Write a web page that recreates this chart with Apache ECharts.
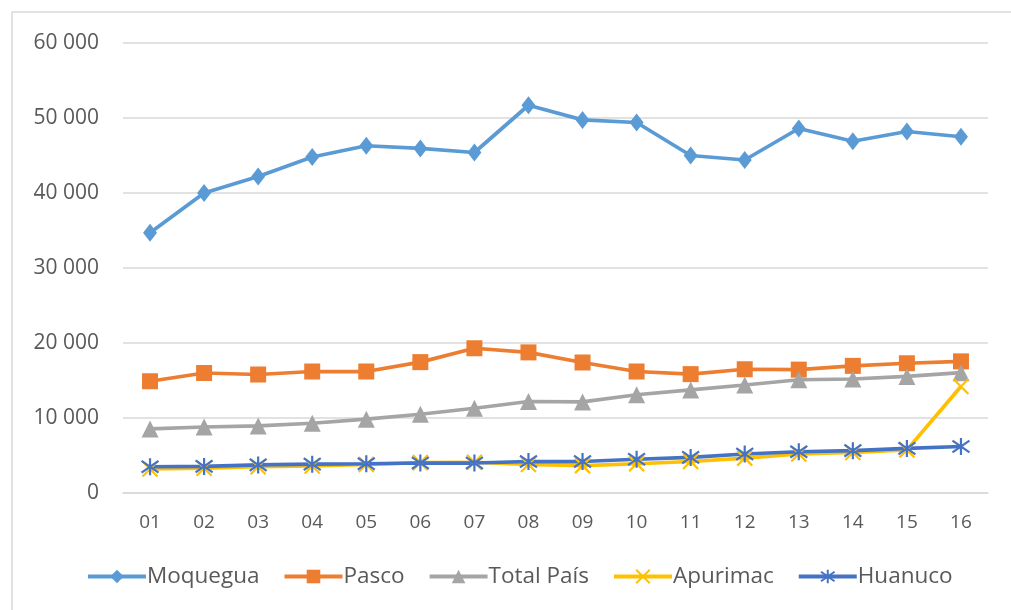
<!DOCTYPE html>
<html>
<head>
<meta charset="utf-8">
<script src="https://cdn.jsdelivr.net/npm/echarts@6/dist/echarts.min.js"></script>
<style>html,body{margin:0;padding:0;background:#fff;}#c{width:1011px;height:610px;}</style>
</head>
<body>
<div id="c"></div>
<script>
const categories = ['01','02','03','04','05','06','07','08','09','10','11','12','13','14','15','16'];
const moquegua = [34700,40000,42200,44800,46300,45950,45400,51700,49750,49400,45000,44400,48600,46900,48200,47500];
const pasco    = [14900,16000,15800,16200,16200,17450,19300,18750,17400,16200,15850,16500,16450,16950,17300,17550];
const totalPais= [8550,8800,8950,9300,9850,10500,11300,12200,12150,13100,13750,14400,15100,15200,15550,16050];
const apurimac = [3200,3300,3500,3600,3800,4050,4100,3800,3650,3900,4200,4650,5200,5400,5750,14200];
const huanuco  = [3500,3550,3750,3850,3900,4000,4000,4200,4200,4500,4750,5200,5500,5650,5950,6200];
const yTicks = {min:0, max:60000, interval:10000};

const X_SYM = 'path://M1,1L9,9M9,1L1,9';
const AST_SYM = 'path://M1.5,1.5L8.5,8.5M8.5,1.5L1.5,8.5M5,0L5,10';
const font = 'Open Sans';

function mk(name, data, color, symbol, size, stroke){
  return {
    name, type:'line', data, symbol, symbolSize:size,
    lineStyle:{color, width:3.75},
    itemStyle: stroke ? {color:'rgba(0,0,0,0)', borderColor:color, borderWidth:2.2} : {color},
    emphasis:{disabled:true}, animation:false
  };
}
const chart = echarts.init(document.getElementById('c'));
chart.setOption({
  animation:false,
  graphic:[{type:'rect', shape:{x:12,y:12,width:1200,height:800}, style:{fill:'none', stroke:'#D9D9D9', lineWidth:1.5}, silent:true}],
  grid:{left:123, right:23, top:43, bottom:117},
  legend:{
    bottom:17, left:81, itemWidth:58, itemHeight:17, itemGap:23,
    lineStyle:{width:4},
    textStyle:{color:'#595959', fontFamily:font, fontSize:22.5, padding:[0,0,0,-4]},
    data:['Moquegua','Pasco','Total País','Apurimac','Huanuco']
  },
  xAxis:{
    type:'category', data:categories, boundaryGap:true,
    axisLine:{lineStyle:{color:'#D9D9D9', width:1.5}}, axisTick:{show:false},
    axisLabel:{color:'#595959', fontFamily:font, fontSize:19, margin:20}
  },
  yAxis:{
    type:'value', min:yTicks.min, max:yTicks.max, interval:yTicks.interval,
    axisLine:{show:false}, axisTick:{show:false},
    splitLine:{lineStyle:{color:'#D9D9D9', width:1.5}},
    axisLabel:{color:'#595959', fontFamily:font, fontSize:21, margin:24,
      formatter:v=> v===0 ? '0' : (v/1000)+' 000'}
  },
  series:[
    mk('Moquegua', moquegua, '#5B9BD5', 'diamond', [14,18]),
    mk('Pasco', pasco, '#ED7D31', 'rect', 16),
    mk('Total País', totalPais, '#A5A5A5', 'triangle', 17),
    mk('Apurimac', apurimac, '#FFC000', X_SYM, 15, true),
    mk('Huanuco', huanuco, '#4472C4', AST_SYM, 17, true)
  ]
});
</script>
</body>
</html>
